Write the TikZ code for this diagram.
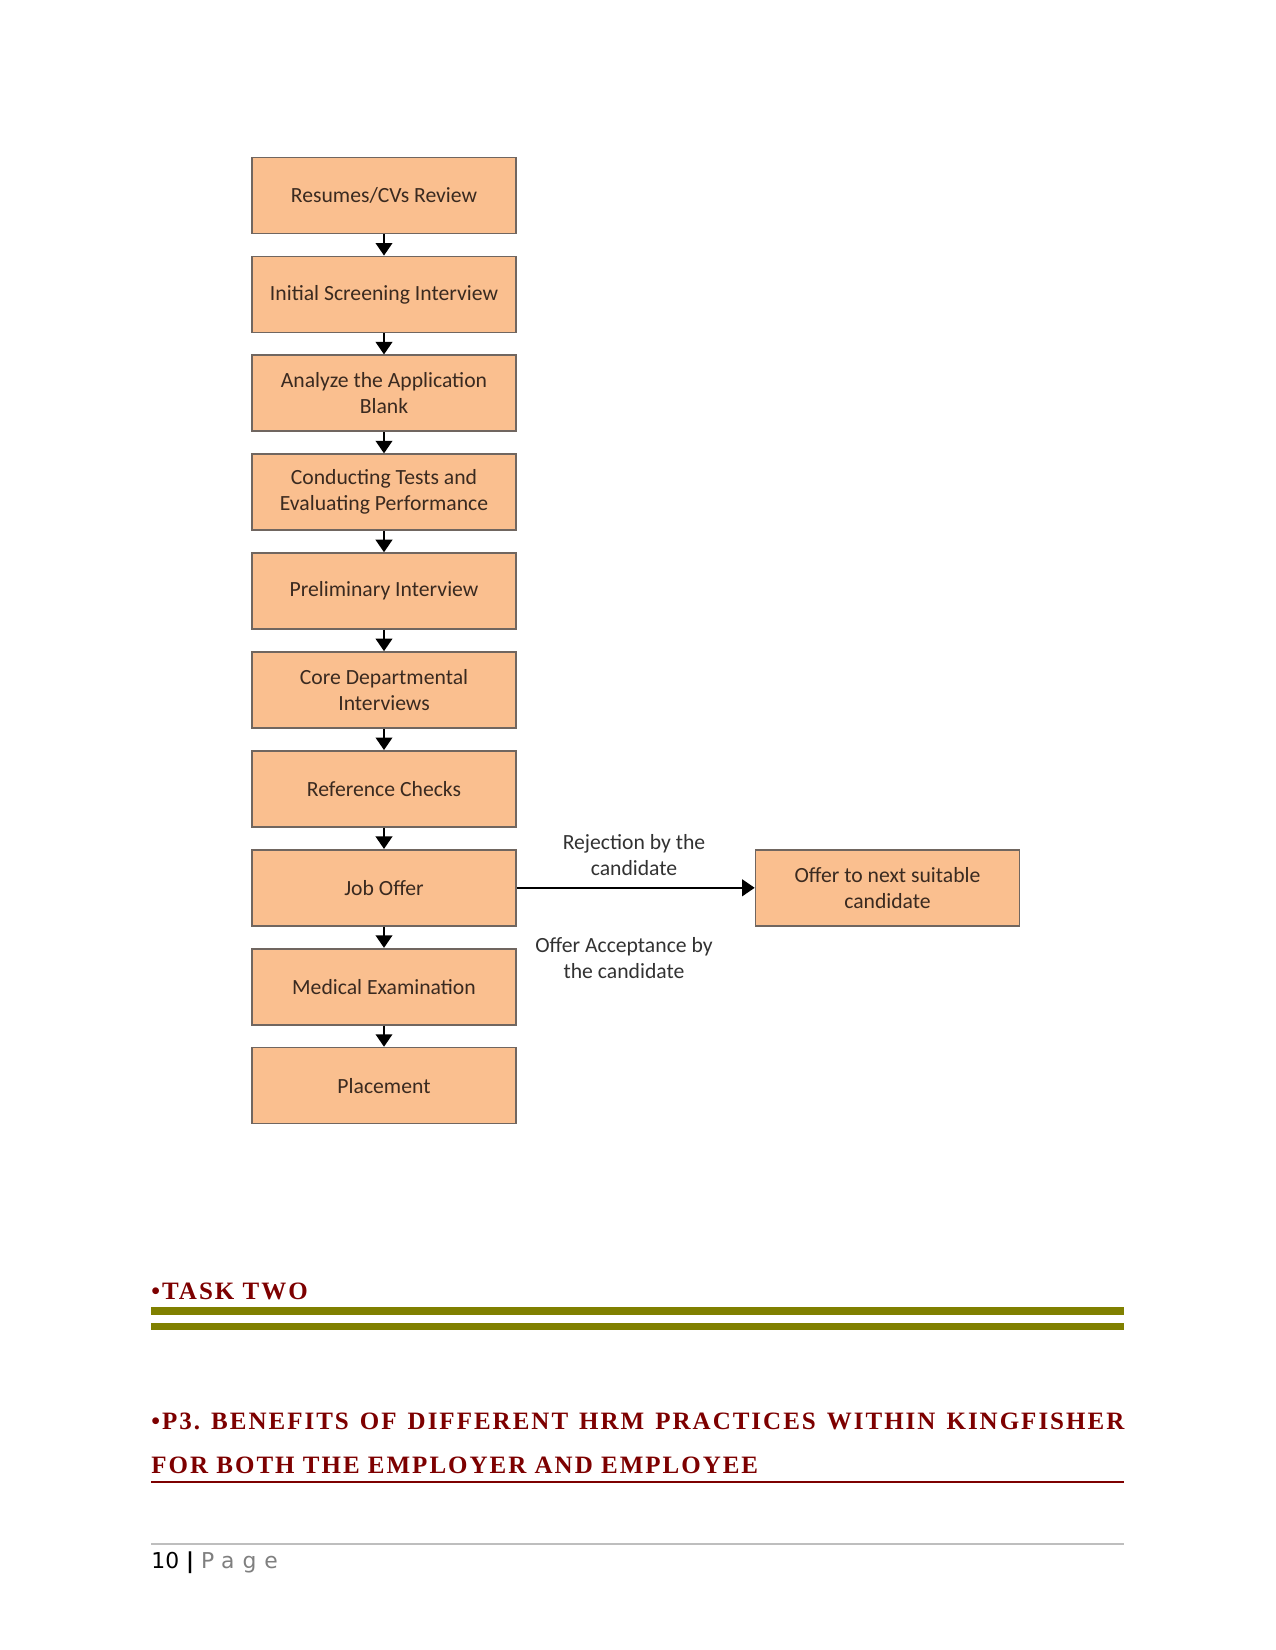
\documentclass[tikz,border=0pt]{standalone}
\usepackage{fontspec}
\setmainfont{Liberation Serif}
\newfontfamily\boxfont{Carlito}
\newfontfamily\headfont[LetterSpace=8]{Liberation Serif}
\newfontfamily\footfont{DejaVu Sans}
\newfontfamily\footspaced[LetterSpace=36]{DejaVu Sans}
\usetikzlibrary{arrows.meta}
\definecolor{boxfill}{RGB}{250,191,143}
\definecolor{boxborder}{RGB}{112,102,96}
\definecolor{boxtext}{RGB}{58,42,32}
\definecolor{lbltext}{RGB}{50,50,50}
\definecolor{hred}{RGB}{125,0,0}
\definecolor{olivebar}{RGB}{128,128,0}
\definecolor{pagegray}{RGB}{127,127,127}
\definecolor{rulegray}{RGB}{190,190,190}
\begin{document}
\frenchspacing
\begin{tikzpicture}[x=0.48pt,y=-0.48pt,
  stepbox/.style={draw=boxborder, fill=boxfill, line width=0.8pt,
    minimum width=126.7pt, minimum height=36.5pt, inner sep=0pt,
    align=center, text=boxtext, font=\boxfont\fontsize{10.4}{12.6}\selectfont},
  lbl/.style={align=center, inner sep=0pt, text=lbltext, font=\boxfont\fontsize{10.4}{12.6}\selectfont},
  flow/.style={-{Triangle[width=8pt,length=6pt]}, line width=0.8pt, black},
  head/.style={anchor=base west, inner sep=0pt, text=hred, font=\headfont\bfseries\fontsize{12}{14}\selectfont}]
\useasboundingbox (0,0) rectangle (1275,1650);

\node[stepbox] (n1) at (384,195.5) {Resumes/CVs Review};
\node[stepbox] (n2) at (384,294.4) {Initial Screening Interview};
\node[stepbox] (n3) at (384,393.3) {Analyze the Application\\Blank};
\node[stepbox] (n4) at (384,492.2) {Conducting Tests and\\Evaluating Performance};
\node[stepbox] (n5) at (384,591.1) {Preliminary Interview};
\node[stepbox] (n6) at (384,690.0) {Core Departmental\\Interviews};
\node[stepbox] (n7) at (384,788.9) {Reference Checks};
\node[stepbox] (n8) at (384,887.8) {Job Offer};
\node[stepbox] (n9) at (384,986.7) {Medical Examination};
\node[stepbox] (n10) at (384,1085.6) {Placement};
\node[stepbox] (offer) at (887.5,887.8) {Offer to next suitable\\candidate};

\draw[flow] (n1) -- (n2);
\draw[flow] (n2) -- (n3);
\draw[flow] (n3) -- (n4);
\draw[flow] (n4) -- (n5);
\draw[flow] (n5) -- (n6);
\draw[flow] (n6) -- (n7);
\draw[flow] (n7) -- (n8);
\draw[flow] (n8) -- (n9);
\draw[flow] (n9) -- (n10);
\draw[flow] (n8) -- (offer);

\node[lbl] (rej) at (634,855) {Rejection by the\\candidate};
\node[lbl] (acc) at (624,958) {Offer Acceptance by\\the candidate};

\node[head] (task) at (151,1299) {•TASK TWO};
\fill[olivebar] (151,1307) rectangle (1124,1315);
\fill[olivebar] (151,1323) rectangle (1124,1330);

\node[head] (p3a) at (151,1429) {\makebox[467pt][s]{•P3. BENEFITS OF DIFFERENT HRM PRACTICES WITHIN KINGFISHER}};
\node[head] (p3b) at (151,1473) {FOR BOTH THE EMPLOYER AND EMPLOYEE};
\draw[hred, line width=0.6pt] (151,1482) -- (1124,1482);

\draw[rulegray, line width=1pt] (151,1544) -- (1124,1544);
\node[anchor=base west, inner sep=0pt, font=\footfont\fontsize{10.5}{12}\selectfont] (pg) at (151,1568)
  {10 \textbf{|} {\color{pagegray}\footspaced Page}};
\end{tikzpicture}
\end{document}
